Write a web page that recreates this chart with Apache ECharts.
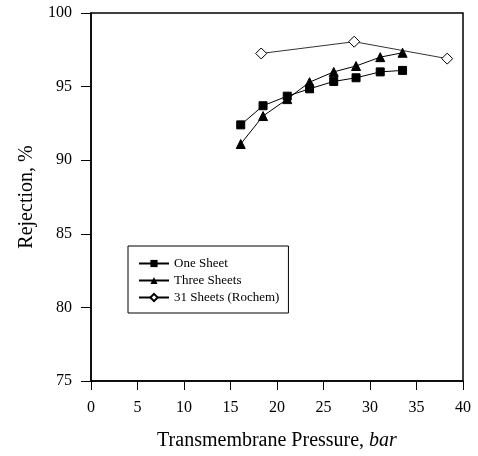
<!DOCTYPE html>
<html><head><meta charset="utf-8">
<script src="https://cdn.jsdelivr.net/npm/echarts@6/dist/echarts.min.js"></script>
<style>html,body{margin:0;padding:0;background:#fff}#c{width:478px;height:456px}</style>
</head><body><div id="c"></div>
<script>
var xTicks = [0, 5, 10, 15, 20, 25, 30, 35, 40];
var yTicks = [75, 80, 85, 90, 95, 100];
var seriesNames = ['One Sheet', 'Three Sheets', '31 Sheets (Rochem)'];
var xOne = [16.1, 18.5, 21.1, 23.5, 26.1, 28.5, 31.1, 33.5];
var yOne = [92.4, 93.7, 94.35, 94.85, 95.35, 95.6, 96.0, 96.1];
var xThree = [16.1, 18.5, 21.1, 23.5, 26.1, 28.5, 31.1, 33.5];
var yThree = [91.1, 93.0, 94.15, 95.3, 96.0, 96.4, 97.0, 97.3];
var x31 = [18.3, 28.3, 38.3];
var y31 = [97.25, 98.05, 96.9];

function pairs(xs, ys){ return xs.map(function(x,i){ return [x, ys[i]]; }); }
var FF = "'Liberation Serif','Times New Roman',serif";
var chart = echarts.init(document.getElementById('c'), null, {renderer:'canvas'});
chart.setOption({
  animation: false,
  backgroundColor: '#fff',
  textStyle: {fontFamily: FF, color: '#000'},
  grid: {left: 91, right: 15, top: 13, bottom: 74, show: true, borderColor: '#000', borderWidth: 1.5, backgroundColor: 'transparent'},
  legend: {
    orient: 'vertical', left: 128, top: 246,
    padding: [11, 9, 9, 10],
    itemWidth: 30, itemHeight: 9, itemGap: 4, itemTextGap: 8,
    borderColor: '#000', borderWidth: 1,
    textStyle: {fontFamily: FF, fontSize: 13, color: '#000'},
    data: seriesNames
  },
  xAxis: {
    type: 'value', min: xTicks[0], max: xTicks[xTicks.length-1], interval: 5,
    name: 'Transmembrane Pressure, {i|bar}', nameLocation: 'middle', nameGap: 50,
    nameTextStyle: {fontFamily: FF, fontSize: 20, color: '#000',
      rich: {i: {fontFamily: FF, fontSize: 20, fontStyle: 'italic', color: '#000'}}},
    axisLine: {show: true, lineStyle: {color: '#000', width: 1.5}},
    axisTick: {show: true, inside: false, length: 9, lineStyle: {color: '#000'}},
    axisLabel: {fontFamily: FF, fontSize: 16, color: '#000', margin: 19},
    splitLine: {show: false}
  },
  yAxis: {
    type: 'value', min: yTicks[0], max: yTicks[yTicks.length-1], interval: 5,
    name: 'Rejection, %', nameLocation: 'middle', nameGap: 47,
    nameTextStyle: {fontFamily: FF, fontSize: 20, color: '#000'},
    axisLine: {show: true, lineStyle: {color: '#000', width: 1.5}},
    axisTick: {show: true, inside: false, length: 10, lineStyle: {color: '#000'}},
    axisLabel: {fontFamily: FF, fontSize: 16, color: '#000', margin: 19},
    splitLine: {show: false}
  },
  series: [
    {name: seriesNames[0], type: 'line', data: pairs(xOne, yOne), symbol: 'rect', symbolSize: 8,
     lineStyle: {color: '#000', width: 1}, itemStyle: {color: '#000', borderColor: '#000'}},
    {name: seriesNames[1], type: 'line', data: pairs(xThree, yThree), symbol: 'triangle', symbolSize: 9,
     lineStyle: {color: '#000', width: 1}, itemStyle: {color: '#000', borderColor: '#000'}},
    {name: seriesNames[2], type: 'line', data: pairs(x31, y31), symbol: 'diamond', symbolSize: 11,
     lineStyle: {color: '#000', width: 0.8}, itemStyle: {color: '#fff', borderColor: '#000', borderWidth: 1}}
  ]
});
</script></body></html>
